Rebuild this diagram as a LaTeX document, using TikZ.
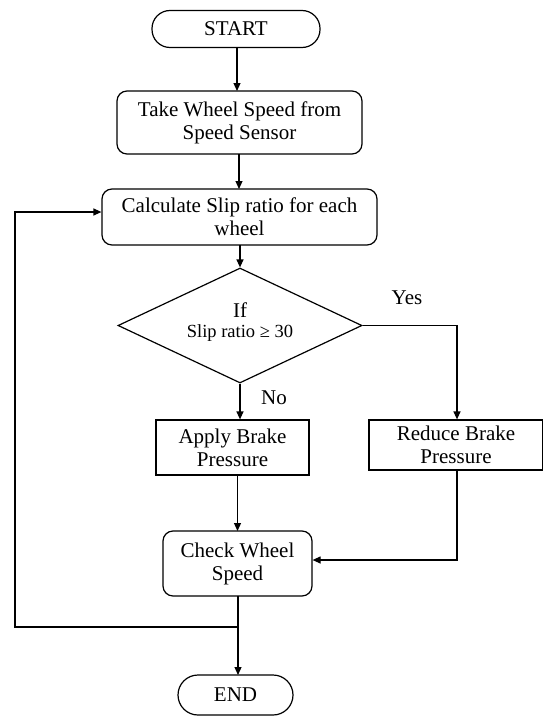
\documentclass[tikz,border=0pt]{standalone}
\usepackage{fontspec}
\setmainfont{Liberation Serif}
\usetikzlibrary{shapes.geometric,arrows.meta}
\begin{document}
\begin{tikzpicture}[x=1pt,y=-1pt,
  every node/.style={font=\fontsize{21}{23}\selectfont, align=center, inner sep=0pt},
  term/.style={draw, rounded corners=18pt, line width=1.2pt},
  rbox/.style={draw, rounded corners=10pt, line width=1.2pt},
  sbox/.style={draw, line width=1.2pt},
  dec/.style={draw, diamond, line width=1.2pt},
  conn/.style={line width=1.2pt, -{Triangle[length=8pt,width=7pt]}},
  line/.style={line width=1.2pt}]
\useasboundingbox (0,0) rectangle (543,717);
\clip (0,0) rectangle (543,717);
\node[term, minimum width=168pt, minimum height=37pt] (start) at (236,29) {START};
\node[rbox, minimum width=245pt, minimum height=63pt] (take) at (239.5,122.5) {Take Wheel Speed from\\Speed Sensor};
\node[rbox, minimum width=275pt, minimum height=56pt] (calc) at (239.5,217) {Calculate Slip ratio for each\\wheel};
\node[dec, minimum width=244pt, minimum height=115pt] (dec) at (240,325.5) {};
\node at (240,310) {If};
\node[font=\fontsize{18.5}{22}\selectfont] at (240,333) {Slip ratio ≥ 30};
\node[sbox, minimum width=153pt, minimum height=55pt] (apply) at (232.5,447.5) {Apply Brake\\Pressure};
\node[sbox, minimum width=174pt, minimum height=50pt] (reduce) at (456,445) {Reduce Brake\\Pressure};
\node[rbox, minimum width=149pt, minimum height=65pt] (check) at (237.5,563.5) {Check Wheel\\Speed};
\node[term, rounded corners=20pt, minimum width=115pt, minimum height=40pt] (end) at (235.5,695) {END};
\node (yes) at (407,298) {Yes};
\node (no) at (274,398) {No};
\draw[conn] (start.south -| 237,0) -- (237,91);
\draw[conn] (239,154) -- (239,189);
\draw[conn] (240,245) -- (dec.north);
\draw[conn] (dec.south) -- (dec.south |- apply.north);
\coordinate (yc) at (457,325.5);
\draw[conn] (dec.east) -- (yc) -- (yc |- reduce.north);
\draw[conn] (237.5,475) -- (237.5,531);
\coordinate (rc) at (457,560);
\draw[conn] (457,470) -- (rc) -- (check.east |- rc);
\draw[conn] (238,596) -- (238,675);
\coordinate (j) at (238,627);
\coordinate (l1) at (15,627);
\coordinate (l2) at (15,212);
\draw[conn] (j) -- (l1) -- (l2) -- (calc.west |- l2);
\end{tikzpicture}
\end{document}
